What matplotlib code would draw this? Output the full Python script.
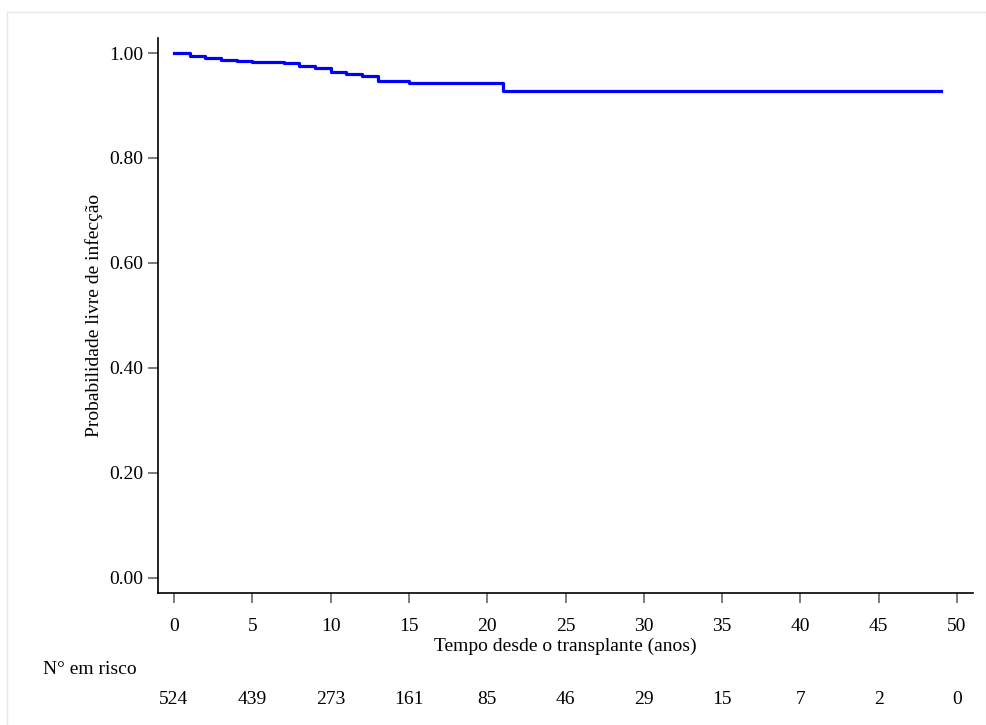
import matplotlib
matplotlib.use("Agg")
import matplotlib.pyplot as plt
from matplotlib.patches import Rectangle

plt.rcParams["font.family"] = ["Liberation Serif", "DejaVu Serif"]

# Kaplan-Meier estimate
times = [0, 1, 2, 3, 4, 5, 7, 8, 9, 10, 11, 12, 13, 15, 21, 49]
surv = [1.000, 0.995, 0.991, 0.987, 0.985, 0.982, 0.980, 0.975, 0.971,
        0.964, 0.960, 0.956, 0.946, 0.942, 0.928, 0.928]

risk_times = [0, 5, 10, 15, 20, 25, 30, 35, 40, 45, 50]
n_at_risk = [524, 439, 273, 161, 85, 46, 29, 15, 7, 2, 0]

y_ticks = [0.0, 0.2, 0.4, 0.6, 0.8, 1.0]

fig = plt.figure(figsize=(9.87, 7.25), dpi=100)
W, H = 987, 725
ax = fig.add_axes([158.3 / W, 1 - 592.7 / H, (972.7 - 158.3) / W, (592.7 - 38) / H])

ax.step(times, surv, where="post", color="#0000ff", linewidth=2.3)

ax.set_xlim(-1.0, 51.0)
ax.set_ylim(-0.0286, 1.0286)
ax.set_xticks(risk_times)
ax.set_yticks(y_ticks)
ax.set_yticklabels([f"{v:.2f}" for v in y_ticks])

for s in ["top", "right"]:
    ax.spines[s].set_visible(False)
for s in ["left", "bottom"]:
    ax.spines[s].set_linewidth(1.2)

ax.tick_params(axis="both", direction="out", length=7, width=1.2, color="#666666",
               labelsize=14)
ax.tick_params(axis="x", pad=11)
ax.tick_params(axis="y", pad=4)

ax.set_ylabel("Probabilidade livre de infecção", fontsize=14, labelpad=4)
ax.set_xlabel("Tempo desde o transplante (anos)", fontsize=14, labelpad=2)

fig.text(43 / W, 1 - 670 / H, "N° em risco", fontsize=14, ha="left", va="center")
for t, n in zip(risk_times, n_at_risk):
    ax.text(t, (592.7 - 700) / (592.7 - 38), str(n), fontsize=14, ha="center",
            va="center", transform=ax.get_xaxis_transform())

# light frame around the graph region
fig.patches.append(Rectangle((7 / W, -0.01), (986 - 7) / W, 1 - 12 / H + 0.01,
                             transform=fig.transFigure, fill=False,
                             edgecolor="#e6e6e6", linewidth=1))

fig.savefig("out.png", dpi=100, facecolor="white")
